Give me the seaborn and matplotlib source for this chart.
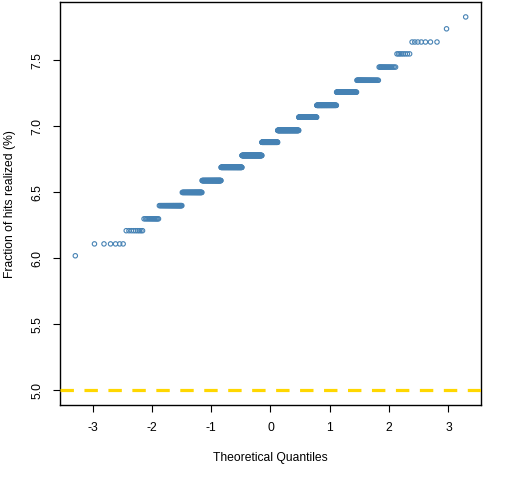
import statistics
import numpy as np
import pandas as pd
import matplotlib
matplotlib.use("Agg")
import matplotlib.pyplot as plt
import seaborn as sns

# Observed levels of the sample (fraction of hits realized, %) and how many
# of the 1000 sorted observations sit at each level
levels = [6.02, 6.11, 6.21, 6.30, 6.40, 6.50, 6.59, 6.69, 6.78, 6.88,
          6.97, 7.07, 7.16, 7.26, 7.35, 7.45, 7.55, 7.64, 7.74, 7.83]
counts = [1, 6, 9, 14, 38, 56, 78, 113, 127, 106,
          135, 99, 85, 60, 39, 17, 8, 7, 1, 1]
reference_level = 5.0
x_ticks = [-3, -2, -1, 0, 1, 2, 3]
y_ticks = [5.0, 5.5, 6.0, 6.5, 7.0, 7.5]

sample = np.repeat(levels, counts)
n = len(sample)
nd = statistics.NormalDist()
theo = [nd.inv_cdf((i - 0.5) / n) for i in range(1, n + 1)]
df = pd.DataFrame({"theoretical": theo, "sample": np.sort(sample)})

sns.set_theme(style="white")
plt.rcParams["font.family"] = ["Liberation Sans", "DejaVu Sans"]

fig = plt.figure(figsize=(5.12, 4.8), dpi=100)
W, H = 512, 480
left, right, top, bottom = 59.7, 481.3, 2.0, 405.3
ax = fig.add_axes([left / W, 1 - bottom / H, (right - left) / W, (bottom - top) / H])

sns.scatterplot(data=df, x="theoretical", y="sample", ax=ax, marker="o", s=10,
                facecolor="none", edgecolor="#4682B4", linewidth=0.8, legend=False)
ax.axhline(reference_level, color="#FFD700", lw=2.3, dashes=(4.2, 3.3),
           solid_capstyle="butt", dash_capstyle="butt", zorder=3)

xr = (min(theo), max(theo))
xpad = (xr[1] - xr[0]) * 0.04
ax.set_xlim(xr[0] - xpad, xr[1] + xpad)
ylo = min(reference_level, sample.min())
yhi = sample.max()
ypad = (yhi - ylo) * 0.04
ax.set_ylim(ylo - ypad, yhi + ypad)

ax.set_xticks(x_ticks)
ax.set_xticklabels([str(t) if t >= 0 else "-" + str(-t) for t in x_ticks])
ax.set_yticks(y_ticks)
ax.set_yticklabels([f"{t:.1f}" for t in y_ticks])

for s in ax.spines.values():
    s.set_color("black")
    s.set_linewidth(1.0)
ax.tick_params(axis="both", direction="out", length=5, width=0.8, color="black",
               labelsize=8.7, labelcolor="black", pad=7, bottom=True, left=True)
ax.tick_params(axis="y", labelrotation=90)
for lab in ax.get_yticklabels():
    lab.set_va("center")

ax.set_xlabel("Theoretical Quantiles", fontsize=8.7, color="black")
ax.set_ylabel("Fraction of hits realized (%)", fontsize=8.7, color="black")
ax.xaxis.set_label_coords(0.5, -0.130)
ax.xaxis.label.set_va("center")
ax.yaxis.set_label_coords(-0.118, 0.5)
ax.yaxis.label.set_va("center")
ax.grid(False)

fig.savefig("out.png", dpi=100)
